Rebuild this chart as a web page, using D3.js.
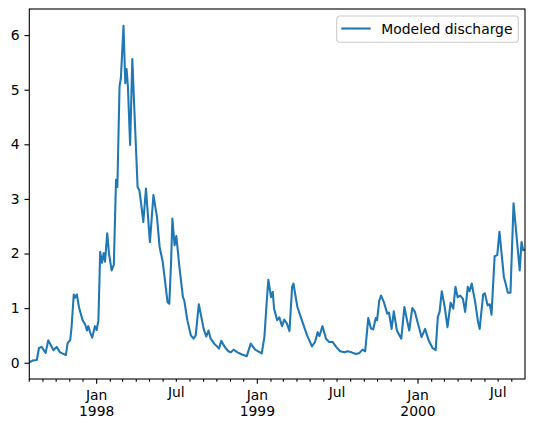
<!DOCTYPE html>
<html>
<head>
<meta charset="utf-8">
<script src="https://cdn.jsdelivr.net/npm/d3@7"></script>
<style>
body { margin: 0; background: #fff; }
text { font-family: "DejaVu Sans", sans-serif; font-size: 13.9px; fill: #000; }
</style>
</head>
<body>
<script>
// modeled discharge
var dates = [
  "1997-08-01","1997-08-09","1997-08-18","1997-08-23","1997-08-29","1997-09-07","1997-09-13","1997-09-25",
  "1997-10-02","1997-10-10","1997-10-23","1997-10-27","1997-11-02","1997-11-05","1997-11-10","1997-11-13",
  "1997-11-17","1997-11-22","1997-11-30","1997-12-06","1997-12-10","1997-12-13","1997-12-17","1997-12-22",
  "1997-12-28","1998-01-01","1998-01-05","1998-01-09","1998-01-13","1998-01-17","1998-01-20","1998-01-25",
  "1998-01-29","1998-02-04","1998-02-09","1998-02-14","1998-02-17","1998-02-22","1998-02-25","1998-03-03",
  "1998-03-07","1998-03-10","1998-03-13","1998-03-18","1998-03-23","1998-03-28","1998-04-04","1998-04-08",
  "1998-04-11","1998-04-17","1998-04-23","1998-04-26","1998-05-02","1998-05-10","1998-05-18","1998-05-24",
  "1998-05-31","1998-06-06","1998-06-11","1998-06-15","1998-06-19","1998-06-22","1998-06-27","1998-07-01",
  "1998-07-08","1998-07-16","1998-07-19","1998-07-26","1998-08-03","1998-08-09","1998-08-14","1998-08-21",
  "1998-08-26","1998-09-01","1998-09-07","1998-09-12","1998-09-17","1998-09-25","1998-10-06","1998-10-11",
  "1998-10-18","1998-10-27","1998-11-02","1998-11-08","1998-11-17","1998-11-27","1998-12-08","1998-12-17",
  "1998-12-27","1999-01-11","1999-01-17","1999-01-23","1999-01-26","1999-02-01","1999-02-05","1999-02-08",
  "1999-02-15","1999-02-20","1999-02-26","1999-03-03","1999-03-09","1999-03-15","1999-03-21","1999-03-24",
  "1999-04-02","1999-04-12","1999-04-24","1999-05-05","1999-05-12","1999-05-18","1999-05-22","1999-05-29",
  "1999-06-06","1999-06-13","1999-06-21","1999-06-29","1999-07-08","1999-07-18","1999-07-25","1999-08-03",
  "1999-08-13","1999-08-21","1999-08-28","1999-09-03","1999-09-10","1999-09-16","1999-09-21","1999-09-27",
  "1999-09-30","1999-10-05","1999-10-09","1999-10-15","1999-10-23","1999-10-27","1999-11-02","1999-11-07",
  "1999-11-14","1999-11-24","1999-12-01","1999-12-07","1999-12-12","1999-12-19","1999-12-25","1999-12-31",
  "2000-01-09","2000-01-17","2000-01-25","2000-02-03","2000-02-10","2000-02-15","2000-02-19","2000-02-24",
  "2000-03-01","2000-03-08","2000-03-15","2000-03-21","2000-03-26","2000-03-31","2000-04-06","2000-04-12",
  "2000-04-17","2000-04-23","2000-04-27","2000-05-02","2000-05-10","2000-05-16","2000-05-20","2000-05-28",
  "2000-06-01","2000-06-07","2000-06-12","2000-06-16","2000-06-23","2000-06-29","2000-07-04","2000-07-14",
  "2000-07-18","2000-07-23","2000-07-29","2000-08-05","2000-08-19","2000-08-23","2000-08-27","2000-08-31"
];
var discharge = [
  0.01,0.04,0.05,0.27,0.29,0.18,0.41,0.23,
  0.29,0.19,0.14,0.36,0.42,0.65,1.25,1.19,
  1.25,1.01,0.78,0.70,0.59,0.67,0.56,0.46,
  0.67,0.60,0.78,2.03,1.83,2.01,1.85,2.37,
  2.00,1.69,1.79,3.35,3.22,5.06,5.21,6.17,
  5.12,5.38,5.06,3.99,5.56,4.57,3.22,3.16,
  2.98,2.58,3.19,2.86,2.21,3.07,2.67,2.12,
  1.85,1.45,1.11,1.08,1.82,2.64,2.15,2.32,
  1.75,1.20,1.14,0.78,0.50,0.44,0.50,1.07,
  0.87,0.62,0.48,0.59,0.44,0.35,0.26,0.40,
  0.30,0.21,0.19,0.24,0.19,0.15,0.12,0.35,
  0.24,0.17,0.47,1.20,1.52,1.20,1.30,0.99,
  0.78,0.83,0.67,0.79,0.72,0.58,1.39,1.45,
  1.02,0.78,0.50,0.30,0.38,0.56,0.49,0.67,
  0.44,0.38,0.38,0.29,0.21,0.19,0.21,0.19,
  0.16,0.18,0.24,0.21,0.82,0.63,0.61,0.82,
  0.78,1.14,1.23,1.12,0.90,0.92,0.62,0.94,
  0.59,0.44,1.02,0.78,0.59,1.00,0.93,0.74,
  0.47,0.62,0.41,0.27,0.23,0.84,0.93,1.31,
  1.05,0.65,1.10,0.99,1.39,1.20,1.23,1.17,
  0.93,1.39,1.31,1.45,1.10,0.76,0.62,1.25,
  1.27,1.05,1.07,0.88,1.95,1.97,2.40,1.57,
  1.45,1.28,1.28,2.92,1.69,2.21,2.06,2.07
];
var yTicks = [0, 1, 2, 3, 4, 5, 6];
var seriesName = "Modeled discharge";

var parseDate = d3.timeParse("%Y-%m-%d");
var data = dates.map(function(d, i) { return { date: parseDate(d), value: discharge[i] }; });

var width = 534, height = 429;
var margin = { top: 9, right: 9, bottom: 50, left: 29.3 };
var plotW = width - margin.left - margin.right,
    plotH = height - margin.top - margin.bottom;

var svg = d3.select("body").append("svg")
    .attr("width", width)
    .attr("height", height);

var x = d3.scaleTime()
    .domain(d3.extent(data, function(d) { return d.date; }))
    .range([0, plotW]);

// matplotlib style 5% padding on y
var ext = d3.extent(discharge);
var pad = (ext[1] - ext[0]) * 0.05;
var y = d3.scaleLinear()
    .domain([ext[0] - pad, ext[1] + pad])
    .range([plotH, 0]);

var g = svg.append("g")
    .attr("transform", "translate(" + margin.left + "," + margin.top + ")");

svg.append("defs").append("clipPath").attr("id", "clip")
  .append("rect").attr("width", plotW).attr("height", plotH);

var line = d3.line()
    .x(function(d) { return x(d.date); })
    .y(function(d) { return y(d.value); });

g.append("path")
    .datum(data)
    .attr("clip-path", "url(#clip)")
    .attr("fill", "none")
    .attr("stroke", "#1f77b4")
    .attr("stroke-width", 2.08)
    .attr("stroke-linejoin", "round")
    .attr("d", line);

// y axis
var yAxis = d3.axisLeft(y).tickValues(yTicks).tickFormat(d3.format("d"))
    .tickSize(4.86).tickPadding(4.86);
g.append("g").attr("class", "y axis").call(yAxis);

// x axis: minor ticks every month, major on January, labels on Jan and Jul
var months = d3.timeMonth.range(x.domain()[0], d3.timeDay.offset(x.domain()[1], 1));
var xg = g.append("g").attr("class", "x axis")
    .attr("transform", "translate(0," + plotH + ")");
xg.selectAll("line.tick")
  .data(months)
.enter().append("line")
    .attr("class", "tick")
    .attr("x1", function(d) { return x(d); })
    .attr("x2", function(d) { return x(d); })
    .attr("y1", 0)
    .attr("y2", function(d) { return d.getMonth() === 0 ? 4.86 : 2.78; })
    .attr("stroke", "#000")
    .attr("stroke-width", 1.1);

var labelled = months.filter(function(d) { return d.getMonth() === 0 || d.getMonth() === 6; });
xg.selectAll("text.lab")
  .data(labelled)
.enter().append("text")
    .attr("class", "lab")
    .attr("text-anchor", "middle")
    .attr("x", function(d) { return x(d); })
    .attr("y", function(d) { return d.getMonth() === 0 ? 20.5 : 18.4; })
    .text(function(d) { return d3.timeFormat("%b")(d); });
xg.selectAll("text.year")
  .data(labelled.filter(function(d) { return d.getMonth() === 0; }))
.enter().append("text")
    .attr("class", "year")
    .attr("text-anchor", "middle")
    .attr("x", function(d) { return x(d); })
    .attr("y", 37.3)
    .text(function(d) { return d3.timeFormat("%Y")(d); });

svg.selectAll(".axis .domain").remove();
svg.selectAll(".y.axis line").attr("stroke-width", 1.1);
svg.selectAll(".y.axis text").attr("font-family", "DejaVu Sans").attr("font-size", "13.9px").attr("fill", "#000");

// frame
g.append("rect")
    .attr("width", plotW)
    .attr("height", plotH)
    .attr("fill", "none")
    .attr("stroke", "#000")
    .attr("stroke-width", 1.1);

// legend
var leg = svg.append("g").attr("transform", "translate(336.7,16)");
leg.append("rect")
    .attr("width", 181.6)
    .attr("height", 26.3)
    .attr("rx", 2.8)
    .attr("fill", "#fff")
    .attr("fill-opacity", 0.8)
    .attr("stroke", "#cccccc")
    .attr("stroke-width", 1.1);
leg.append("line")
    .attr("x1", 4.6).attr("x2", 34)
    .attr("y1", 12.5).attr("y2", 12.5)
    .attr("stroke", "#1f77b4")
    .attr("stroke-width", 2.08);
leg.append("text")
    .attr("x", 44.6)
    .attr("y", 18.2)
    .text(seriesName);
</script>
</body>
</html>
